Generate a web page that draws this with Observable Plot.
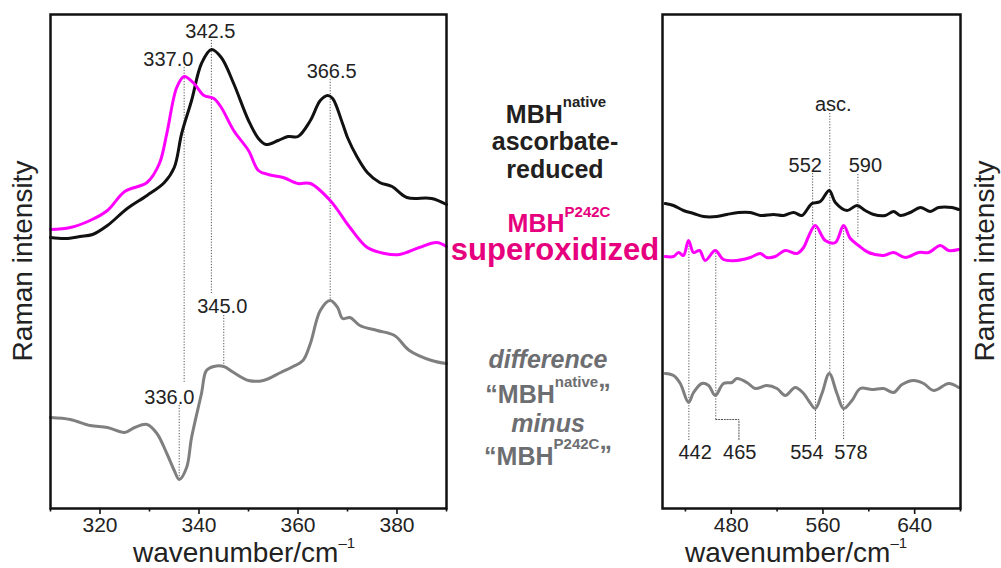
<!DOCTYPE html>
<html>
<head>
<meta charset="utf-8">
<script src="https://cdn.jsdelivr.net/npm/d3@7"></script>
<script src="https://cdn.jsdelivr.net/npm/@observablehq/plot@0.6"></script>
<style>
  html, body { margin: 0; padding: 0; background: #fff; }
  #wrap { position: relative; width: 1001px; height: 568px; overflow: hidden; }
  #wrap svg { position: absolute; left: 0; top: 0; }
  text { font-family: "Liberation Sans", Arial, Helvetica, sans-serif; }
</style>
</head>
<body>
<div id="wrap"></div>
<script>
// ---------- data (wavenumber / cm^-1, displayed intensity in arbitrary units, spectra stacked) ----------
// Low-frequency panel (310–390 cm^-1)
const lowNativeX = [310,313,316,318.5,321.5,325.5,329.5,333,335,336.5,338.5,340.5,342.5,344.5,347,350,352,353.5,356,358,360,362.5,364.5,366,367,369,370,372,374,376.5,379,382,387,390];
const lowNativeY = [271,270,272,274,283,300,313,326,341,375,408,445,459,451,425,388,370,364,368,372,372,388,408,413,410,385,371,351,336,326,322,311,310,304];

const lowP242CX = [310,314,318,321.5,325,329.5,332,333.5,335.5,337,339,341,343,344.5,347,350,352,354,357,360,362.5,366.5,370.5,374,377.5,380.5,384.5,388,390];
const lowP242CY = [279,281,288,298,317,326,345,375,421,432,425,413,410,401,378,358,338,334,331,325,325,308,281,261,255,254,261,266,262];

const lowDiffX = [310,314,318,321.5,325,327,329.5,331.5,333.5,335,336,337.5,338.5,340.5,341.5,343,345,347,350,353,356.5,359,361,362.5,364.5,366.5,368,369,370.5,372.5,376,379.5,382.5,387,390];
const lowDiffY = [91,89,83,81,76,81,84,75,55,38,29,41,71,115,138,142,142,136,128,128,136,142,148,165,198,208,201,190,191,183,178,173,158,148,145];

// High-frequency panel (420–680 cm^-1)
const highNativeX = [422.4,429.6,438.3,447.1,455.8,467.5,476.2,486.3,496.6,505.3,516.9,525.6,534.4,541.7,547.4,550.4,557.7,565.5,570.8,581,589.7,596.9,604.2,614.4,621.6,627.5,636.2,645,653.7,660.9,672.6,678.4];
const highNativeY = [305,303,298,295,292,292,294,296,296,293,294,293,296,293,301,305,307,318,306,298,303,298,294,293,297,293,296,301,297,301,301,299];

const highP242CX = [422.4,429.6,434,438.3,442.7,447.1,452.3,457.3,466,473.2,484.9,496.6,505.3,511.1,518.4,527.1,537.3,543.1,547.4,553.3,562,570.8,578,583.9,591.1,599.8,612.9,621.6,631.9,643.5,652.2,662.4,669.7,678.4];
const highP242CY = [252,252,256,253,268,256,258,248,258,249,248,251,255,251,252,258,255,261,272,283,268,266,283,270,263,256,253,256,251,256,256,263,258,259];

const highDiffX = [422.4,429.6,435.5,442.7,447.1,454.4,460.2,466,473.2,480.6,484.9,493.7,500.9,511.1,519.9,527.1,535.8,543.1,547.4,553.3,559.1,565.5,572.2,578,585.3,592.6,602.8,612.9,621.6,629,639.1,647.8,656.6,669.7,678.4];
const highDiffY = [135,133,125,106,116,125,123,113,125,126,130,126,120,123,120,113,121,115,108,100,115,135,115,100,108,120,119,120,116,124,128,125,118,125,121];

// tick labels
const lowTicks = [320, 340, 360, 380];
const lowMinor = [310, 330, 350, 370, 390];
const highTicks = [480, 560, 640];
const highMinor = [440, 520, 600, 680];

// peak annotations: line at wavenumber `at` from y1 to y2, label text placed at (lx, ly)
const lowPeaks = [
  {at: 342.5, y1: 468, y2: 215, label: "342.5", lx: 342.3, ly: 471},
  {at: 337.0, y1: 441, y2: 125, label: "337.0", lx: 333.8, ly: 443},
  {at: 366.5, y1: 429, y2: 208, label: "366.5", lx: 366.8, ly: 431},
  {at: 345.0, y1: 193, y2: 143, label: "345.0", lx: 344.7, ly: 196},
  {at: 336.0, y1: 103, y2: 28,  label: "336.0", lx: 334.0, ly: 105}
];
const highPeaks = [
  {at: 566,   y1: 395, y2: 135, label: "asc.", lx: 569,   ly: 398},
  {at: 551,   y1: 335, y2: 280, label: "552",  lx: 544.5, ly: 337},
  {at: 590.5, y1: 334, y2: 270, label: "590",  lx: 597,   ly: 337},
  {at: 553.5, y1: 280, y2: 68,  label: "554",  lx: 546,   ly: 50},
  {at: 578,   y1: 283, y2: 68,  label: "578",  lx: 584.5, ly: 50},
  {at: 443,   y1: 268, y2: 68,  label: "442",  lx: 448.5, ly: 50},
  {at: 466.5, y1: 258, y2: 89,  label: "465",  lx: 487.4, ly: 50}
];
// elbow connector for the 465 label
const elbowX = [466.5, 466.5, 486.7, 486.7];
const elbowY = [89, 89, 89, 68];

// ---------- build ----------
const W = 1001, H = 568;
const FONT = '"Liberation Sans", Arial, Helvetica, sans-serif';
const cBlack = "#111111", cMag = "#ff00ff", cGray = "#7f7f7f";
const zip = (xs, ys) => xs.map((x, i) => ({x, y: ys[i]}));

function panel({domain, left, right, series, ticks, minor, peaks, extra = []}) {
  return Plot.plot({
    width: W, height: H,
    marginLeft: left, marginRight: W - right, marginTop: 14, marginBottom: 60,
    style: {fontFamily: FONT, fontSize: "20px", color: "#222", overflow: "visible", background: "transparent"},
    x: {domain},
    y: {domain: [0, 494], axis: null},
    marks: [
      Plot.ruleX(peaks, {x: "at", y1: "y1", y2: "y2", stroke: "#555", strokeWidth: 1, strokeDasharray: "1.2,1.6"}),
      ...extra,
      ...series.map(s => Plot.line(zip(s.x, s.y), {x: "x", y: "y", stroke: s.color, strokeWidth: 3, curve: "catmull-rom"})),
      Plot.text(peaks, {x: "lx", y: "ly", text: "label", fontSize: 20, fill: "#222", lineAnchor: "bottom", textAnchor: "middle"}),
      Plot.axisX({ticks, tickSize: 6, tickPadding: 3, fontSize: 21, label: null, stroke: cBlack, strokeWidth: 1.6, fill: "#222", tickFormat: d => String(d)}),
      Plot.axisX({ticks: minor, tickSize: 3.5, text: null, label: null, stroke: cBlack, strokeWidth: 1.6}),
      Plot.frame({stroke: cBlack, strokeWidth: 2.5})
    ]
  });
}

const wrap = document.getElementById("wrap");

wrap.appendChild(panel({
  domain: [310, 390], left: 50, right: 446,
  series: [
    {x: lowNativeX, y: lowNativeY, color: cBlack},
    {x: lowP242CX, y: lowP242CY, color: cMag},
    {x: lowDiffX, y: lowDiffY, color: cGray}
  ],
  ticks: lowTicks, minor: lowMinor, peaks: lowPeaks
}));

wrap.appendChild(panel({
  domain: [420, 680], left: 662, right: 960,
  series: [
    {x: highNativeX, y: highNativeY, color: cBlack},
    {x: highP242CX, y: highP242CY, color: cMag},
    {x: highDiffX, y: highDiffY, color: cGray}
  ],
  ticks: highTicks, minor: highMinor, peaks: highPeaks,
  extra: [Plot.line(zip(elbowX, elbowY), {x: "x", y: "y", stroke: "#555", strokeWidth: 1, strokeDasharray: "1.2,1.6"})]
}));

// ---------- text overlay: axis titles and spectrum labels ----------
const ns = "http://www.w3.org/2000/svg";
const ov = document.createElementNS(ns, "svg");
ov.setAttribute("width", W); ov.setAttribute("height", H);
ov.innerHTML = `
  <g font-family='${FONT}'>
    <text transform="translate(32,261) rotate(-90)" text-anchor="middle" font-size="28" fill="#222">Raman intensity</text>
    <text transform="translate(994,261) rotate(-90)" text-anchor="middle" font-size="28" fill="#222">Raman intensity</text>

    <text x="133" y="562" font-size="28" fill="#222">wavenumber/cm<tspan font-size="15" dy="-14">–1</tspan></text>
    <text x="685" y="562" font-size="28" fill="#222">wavenumber/cm<tspan font-size="15" dy="-14">–1</tspan></text>

    <g font-weight="bold" text-anchor="middle">
      <text x="556" y="123" font-size="25" fill="#231f20">MBH<tspan font-size="15" dy="-16">native</tspan></text>
      <text x="555" y="150" font-size="25" fill="#231f20">ascorbate-</text>
      <text x="555" y="178" font-size="25" fill="#231f20">reduced</text>

      <text x="559" y="232" font-size="25" fill="#e6007e">MBH<tspan font-size="15" dy="-15">P242C</tspan></text>
      <text x="555" y="260" font-size="31" fill="#e6007e">superoxidized</text>

      <text x="548" y="368" font-size="25" fill="#6d6e71" font-style="italic">difference</text>
      <text x="548" y="403" font-size="25" fill="#6d6e71">“MBH<tspan font-size="15" dy="-16">native</tspan><tspan font-size="25">„</tspan></text>
      <text x="548" y="432" font-size="25" fill="#6d6e71" font-style="italic">minus</text>
      <text x="548" y="465" font-size="25" fill="#6d6e71">“MBH<tspan font-size="15" dy="-16">P242C</tspan><tspan font-size="25">„</tspan></text>
    </g>
  </g>`;
wrap.appendChild(ov);
</script>
</body>
</html>
